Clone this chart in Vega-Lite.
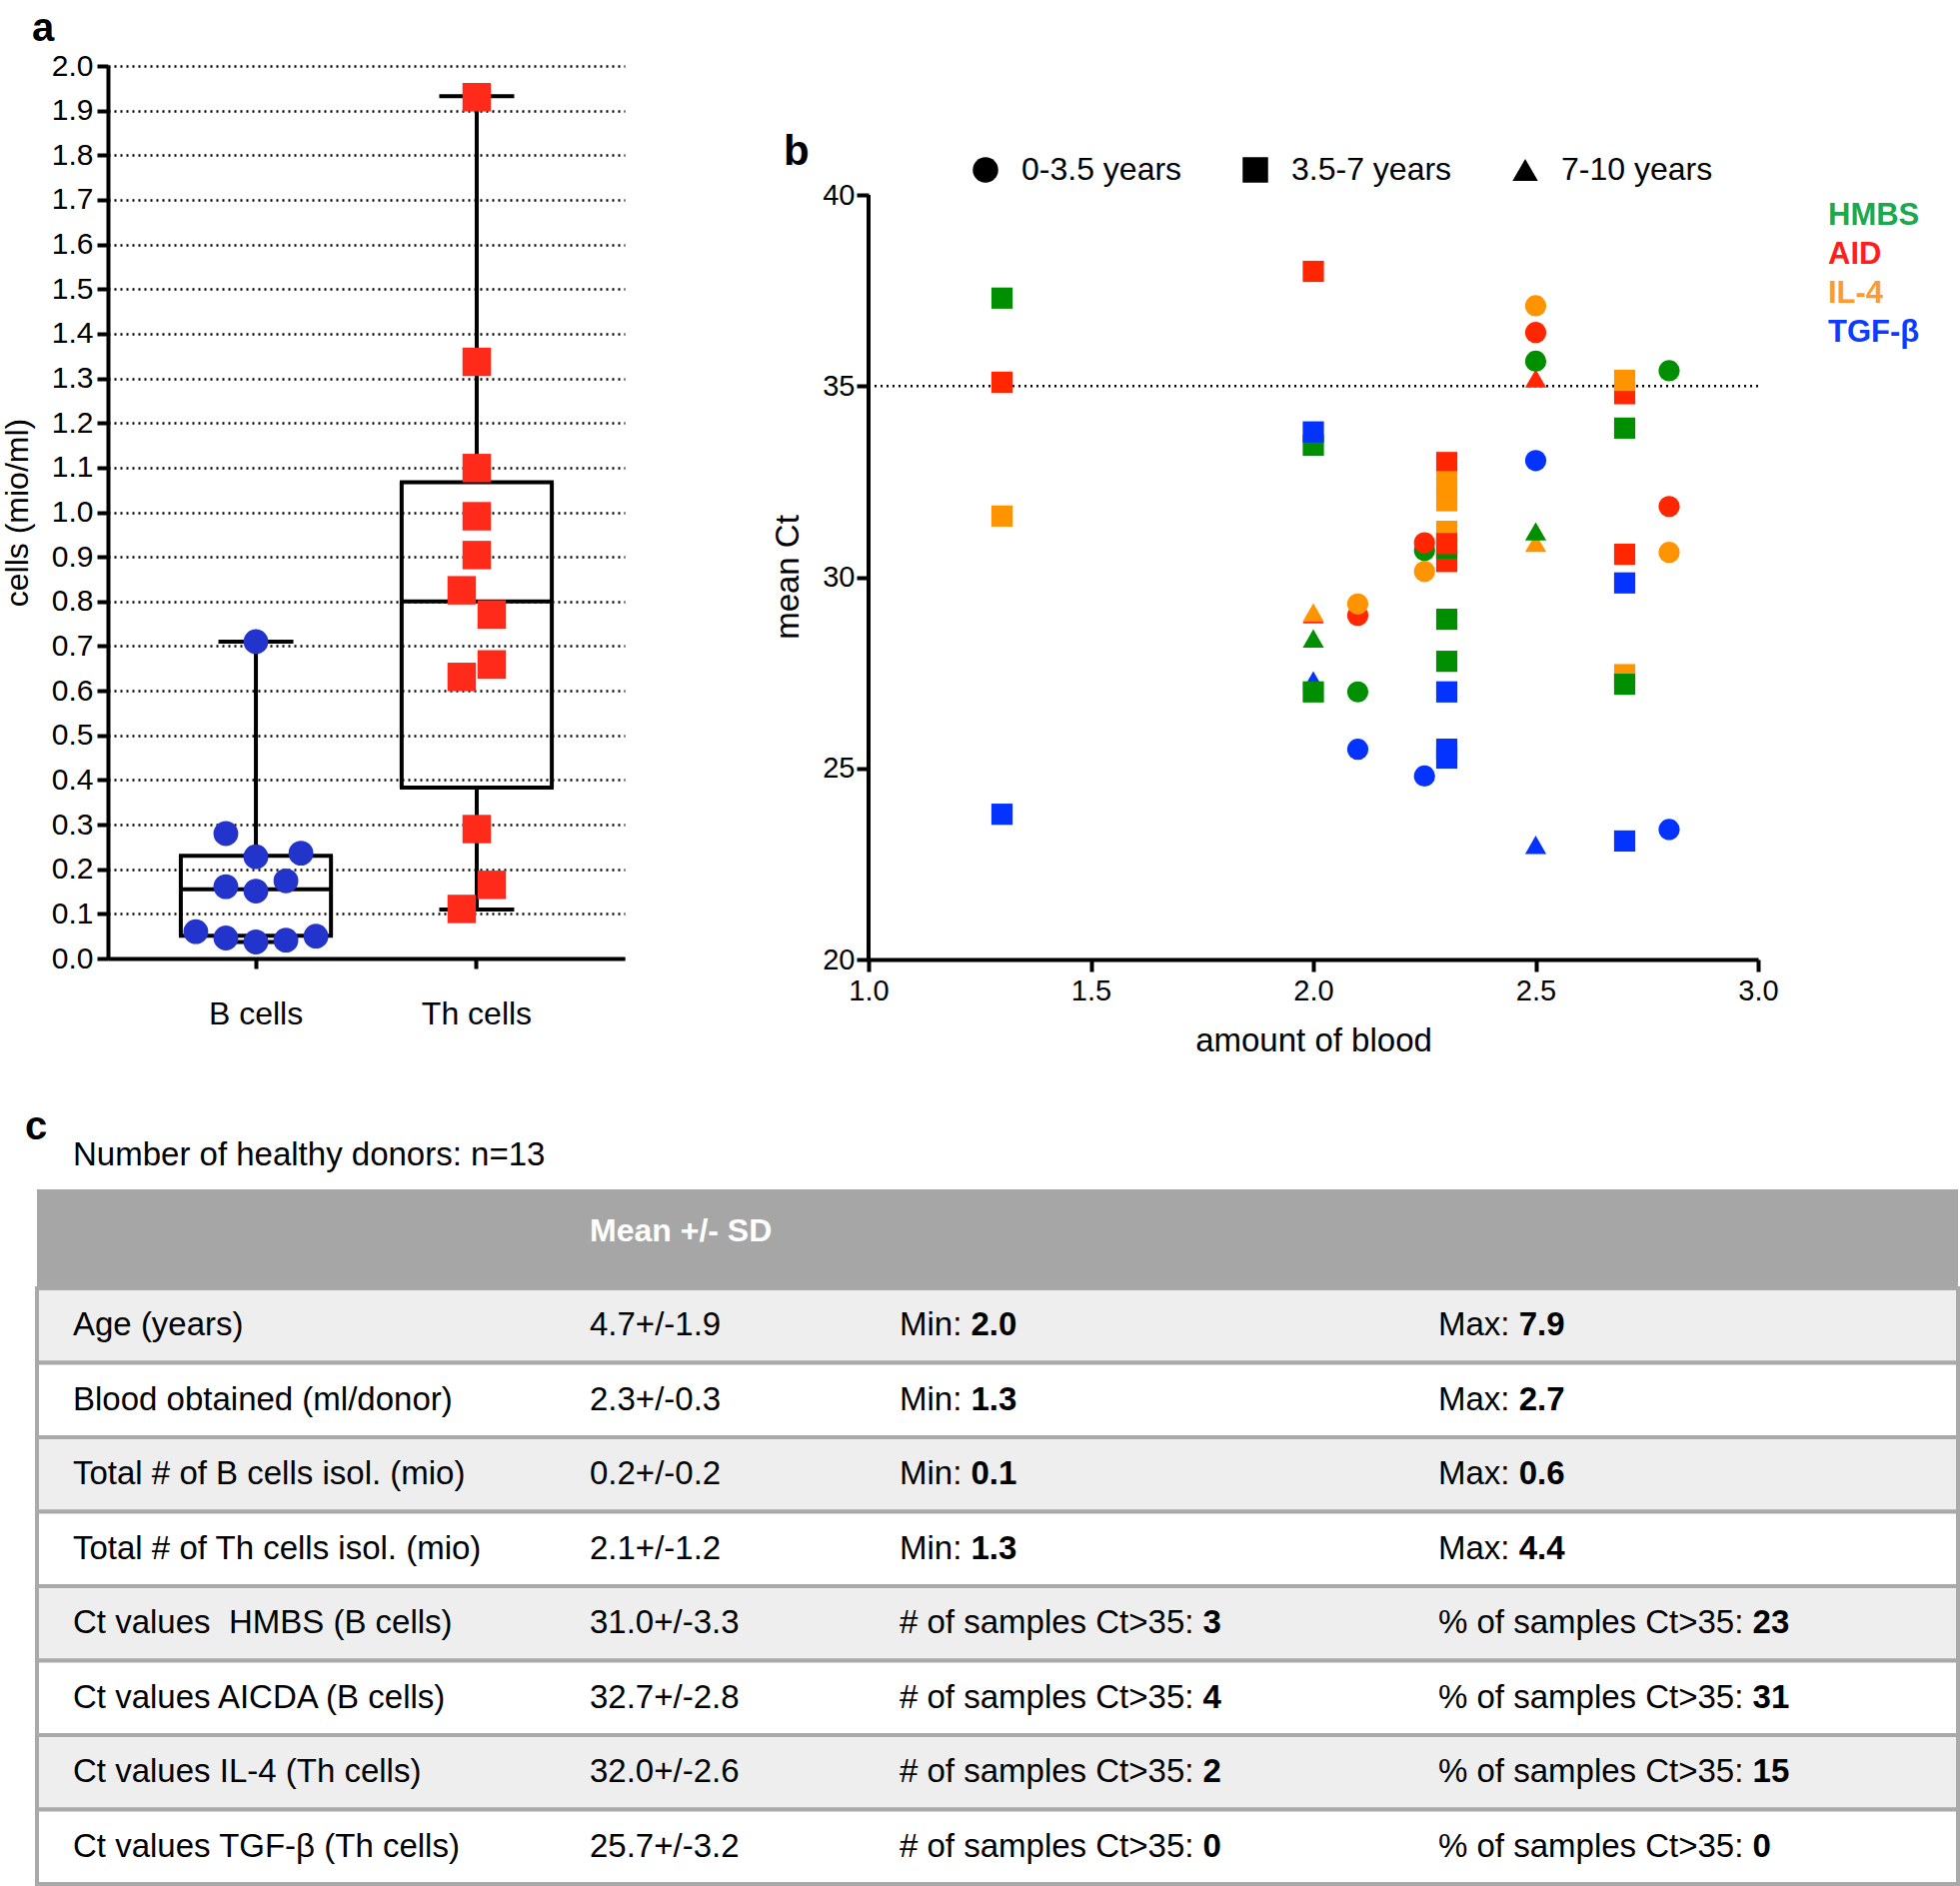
{
  "$schema": "https://vega.github.io/schema/vega-lite/v6.json",
  "background": "white",
  "padding": {"left": 1, "top": 9, "right": 0, "bottom": 0},
  "autosize": {"type": "pad"},
  "config": {
    "font": "Liberation Sans",
    "view": {"stroke": null},
    "axis": {"domainColor": "black", "tickColor": "black", "labelColor": "black", "titleColor": "black", "titleFontWeight": "normal", "labelFlush": false, "labelOverlap": false},
    "title": {"color": "black"}
  },
  "datasets": {
    "summaryA": [
      {"cell": "B cells", "lower": 0.037, "q1": 0.051, "median": 0.155, "q3": 0.23, "upper": 0.71},
      {"cell": "Th cells", "lower": 0.11, "q1": 0.383, "median": 0.8, "q3": 1.067, "upper": 1.932}
    ],
    "pointsA": [
      {"cell": "B cells", "v": 0.71, "slot": 0},
      {"cell": "B cells", "v": 0.28, "slot": -1},
      {"cell": "B cells", "v": 0.228, "slot": 0},
      {"cell": "B cells", "v": 0.236, "slot": 1.5},
      {"cell": "B cells", "v": 0.161, "slot": -1},
      {"cell": "B cells", "v": 0.151, "slot": 0},
      {"cell": "B cells", "v": 0.174, "slot": 1},
      {"cell": "B cells", "v": 0.06, "slot": -2},
      {"cell": "B cells", "v": 0.046, "slot": -1},
      {"cell": "B cells", "v": 0.037, "slot": 0},
      {"cell": "B cells", "v": 0.041, "slot": 1},
      {"cell": "B cells", "v": 0.05, "slot": 2},
      {"cell": "Th cells", "v": 1.93, "slot": 0},
      {"cell": "Th cells", "v": 1.337, "slot": 0},
      {"cell": "Th cells", "v": 1.099, "slot": 0},
      {"cell": "Th cells", "v": 0.991, "slot": 0},
      {"cell": "Th cells", "v": 0.904, "slot": 0},
      {"cell": "Th cells", "v": 0.825, "slot": -0.5},
      {"cell": "Th cells", "v": 0.771, "slot": 0.5},
      {"cell": "Th cells", "v": 0.659, "slot": 0.5},
      {"cell": "Th cells", "v": 0.631, "slot": -0.5},
      {"cell": "Th cells", "v": 0.29, "slot": 0},
      {"cell": "Th cells", "v": 0.165, "slot": 0.5},
      {"cell": "Th cells", "v": 0.111, "slot": -0.5}
    ],
    "refLinesB": [
      {"blood": 1, "blood_end": 1, "ct": 20, "ct_end": 40, "kind": "axis"},
      {"blood": 1, "blood_end": 3, "ct": 35, "ct_end": 35, "kind": "threshold"}
    ],
    "pointsB": [
      {"gene": "TGF-β", "age": "7-10 years", "blood": 2.0, "ct": 27.3},
      {"gene": "AID", "age": "3.5-7 years", "blood": 1.3, "ct": 35.1},
      {"gene": "AID", "age": "3.5-7 years", "blood": 2.0, "ct": 38.0},
      {"gene": "AID", "age": "7-10 years", "blood": 2.0, "ct": 29.03},
      {"gene": "AID", "age": "0-3.5 years", "blood": 2.1, "ct": 29.0},
      {"gene": "AID", "age": "3.5-7 years", "blood": 2.3, "ct": 33.0},
      {"gene": "AID", "age": "3.5-7 years", "blood": 2.3, "ct": 30.41},
      {"gene": "AID", "age": "0-3.5 years", "blood": 2.5, "ct": 36.4},
      {"gene": "AID", "age": "7-10 years", "blood": 2.5, "ct": 35.2},
      {"gene": "AID", "age": "3.5-7 years", "blood": 2.7, "ct": 34.8},
      {"gene": "AID", "age": "3.5-7 years", "blood": 2.7, "ct": 30.6},
      {"gene": "AID", "age": "0-3.5 years", "blood": 2.8, "ct": 31.85},
      {"gene": "IL-4", "age": "3.5-7 years", "blood": 1.3, "ct": 31.6},
      {"gene": "IL-4", "age": "7-10 years", "blood": 2.0, "ct": 29.08},
      {"gene": "IL-4", "age": "0-3.5 years", "blood": 2.1, "ct": 29.3},
      {"gene": "IL-4", "age": "0-3.5 years", "blood": 2.25, "ct": 30.15},
      {"gene": "IL-4", "age": "3.5-7 years", "blood": 2.3, "ct": 32.5},
      {"gene": "IL-4", "age": "3.5-7 years", "blood": 2.3, "ct": 32.0},
      {"gene": "IL-4", "age": "3.5-7 years", "blood": 2.3, "ct": 31.2},
      {"gene": "IL-4", "age": "0-3.5 years", "blood": 2.5, "ct": 37.1},
      {"gene": "IL-4", "age": "7-10 years", "blood": 2.5, "ct": 30.9},
      {"gene": "IL-4", "age": "3.5-7 years", "blood": 2.7, "ct": 35.15},
      {"gene": "IL-4", "age": "3.5-7 years", "blood": 2.7, "ct": 27.45},
      {"gene": "IL-4", "age": "0-3.5 years", "blood": 2.8, "ct": 30.65},
      {"gene": "HMBS", "age": "3.5-7 years", "blood": 1.3, "ct": 37.3},
      {"gene": "HMBS", "age": "3.5-7 years", "blood": 2.0, "ct": 33.45},
      {"gene": "HMBS", "age": "3.5-7 years", "blood": 2.0, "ct": 27.0},
      {"gene": "HMBS", "age": "7-10 years", "blood": 2.0, "ct": 28.4},
      {"gene": "HMBS", "age": "0-3.5 years", "blood": 2.1, "ct": 27.0},
      {"gene": "HMBS", "age": "0-3.5 years", "blood": 2.25, "ct": 30.7},
      {"gene": "HMBS", "age": "3.5-7 years", "blood": 2.3, "ct": 30.76},
      {"gene": "HMBS", "age": "3.5-7 years", "blood": 2.3, "ct": 28.9},
      {"gene": "HMBS", "age": "3.5-7 years", "blood": 2.3, "ct": 27.8},
      {"gene": "HMBS", "age": "0-3.5 years", "blood": 2.5, "ct": 35.65},
      {"gene": "HMBS", "age": "7-10 years", "blood": 2.5, "ct": 31.2},
      {"gene": "HMBS", "age": "3.5-7 years", "blood": 2.7, "ct": 33.9},
      {"gene": "HMBS", "age": "3.5-7 years", "blood": 2.7, "ct": 27.2},
      {"gene": "HMBS", "age": "0-3.5 years", "blood": 2.8, "ct": 35.4},
      {"gene": "TGF-β", "age": "3.5-7 years", "blood": 1.3, "ct": 23.8},
      {"gene": "TGF-β", "age": "3.5-7 years", "blood": 2.0, "ct": 33.8},
      {"gene": "TGF-β", "age": "0-3.5 years", "blood": 2.1, "ct": 25.5},
      {"gene": "TGF-β", "age": "0-3.5 years", "blood": 2.25, "ct": 24.8},
      {"gene": "TGF-β", "age": "3.5-7 years", "blood": 2.3, "ct": 27.0},
      {"gene": "TGF-β", "age": "3.5-7 years", "blood": 2.3, "ct": 25.5},
      {"gene": "TGF-β", "age": "3.5-7 years", "blood": 2.3, "ct": 25.27},
      {"gene": "TGF-β", "age": "0-3.5 years", "blood": 2.5, "ct": 33.05},
      {"gene": "TGF-β", "age": "7-10 years", "blood": 2.5, "ct": 23.0},
      {"gene": "TGF-β", "age": "3.5-7 years", "blood": 2.7, "ct": 29.85},
      {"gene": "TGF-β", "age": "3.5-7 years", "blood": 2.7, "ct": 23.1},
      {"gene": "TGF-β", "age": "0-3.5 years", "blood": 2.8, "ct": 23.4},
      {"gene": "AID", "age": "0-3.5 years", "blood": 2.25, "ct": 30.9},
      {"gene": "AID", "age": "3.5-7 years", "blood": 2.3, "ct": 30.88}
    ],
    "header": [
      {"col": 2, "text": "Mean +/- SD"}
    ],
    "rows": [
      {"label": "Age (years)", "mean": "4.7+/-1.9", "s1p": "Min: ", "s1v": "2.0", "s2p": "Max: ", "s2v": "7.9"},
      {"label": "Blood obtained (ml/donor)", "mean": "2.3+/-0.3", "s1p": "Min: ", "s1v": "1.3", "s2p": "Max: ", "s2v": "2.7"},
      {"label": "Total # of B cells isol. (mio)", "mean": "0.2+/-0.2", "s1p": "Min: ", "s1v": "0.1", "s2p": "Max: ", "s2v": "0.6"},
      {"label": "Total # of Th cells isol. (mio)", "mean": "2.1+/-1.2", "s1p": "Min: ", "s1v": "1.3", "s2p": "Max: ", "s2v": "4.4"},
      {"label": "Ct values\u00a0 HMBS (B cells)", "mean": "31.0+/-3.3", "s1p": "# of samples Ct>35: ", "s1v": "3", "s2p": "% of samples Ct>35: ", "s2v": "23"},
      {"label": "Ct values AICDA (B cells)", "mean": "32.7+/-2.8", "s1p": "# of samples Ct>35: ", "s1v": "4", "s2p": "% of samples Ct>35: ", "s2v": "31"},
      {"label": "Ct values IL-4 (Th cells)", "mean": "32.0+/-2.6", "s1p": "# of samples Ct>35: ", "s1v": "2", "s2p": "% of samples Ct>35: ", "s2v": "15"},
      {"label": "Ct values TGF-β (Th cells)", "mean": "25.7+/-3.2", "s1p": "# of samples Ct>35: ", "s1v": "0", "s2p": "% of samples Ct>35: ", "s2v": "0"}
    ]
  },
  "bounds": "flush",
  "spacing": 1124,
  "vconcat": [
    {
      "bounds": "flush",
      "spacing": 70,
      "hconcat": [
        {"width": 1, "height": 894, "data": {"values": [{"s": 0}]}, "mark": {"type": "point", "opacity": 0}, "encoding": {}},
        {
          "bounds": "flush",
          "spacing": 244,
          "hconcat": [
            {
              "width": 517,
              "height": 893,
              "title": {"text": "a", "anchor": "start", "frame": "group", "fontSize": 40, "fontWeight": "bold", "baseline": "alphabetic", "offset": 0, "dx": -76, "dy": 30},
              "encoding": {
                "x": {"field": "cell", "type": "nominal", "sort": ["B cells", "Th cells"], "scale": {"domain": ["B cells", "Th cells"], "paddingInner": 0.32, "paddingOuter": 0.33}, "axis": {"title": null, "labelAngle": 0, "labelFontSize": 32, "labelPadding": 30, "tickSize": 10, "tickWidth": 4, "domainWidth": 4, "grid": false}}
              },
              "layer": [
                {
                  "data": {"name": "summaryA"},
                  "mark": {"type": "rule", "color": "black", "strokeWidth": 4},
                  "encoding": {
                    "y": {"field": "lower", "type": "quantitative", "scale": {"domain": [0, 2], "nice": false}, "axis": {"values": [0, 0.1, 0.2, 0.3, 0.4, 0.5, 0.6, 0.7, 0.8, 0.9, 1.0, 1.1, 1.2, 1.3, 1.4, 1.5, 1.6, 1.7, 1.8, 1.9, 2.0], "format": ".1f", "labelFontSize": 30, "labelPadding": 4, "tickSize": 11, "tickWidth": 4, "domainWidth": 4, "grid": true, "gridDash": [2, 4], "gridWidth": 2.5, "gridColor": "black", "title": "cells (mio/ml)", "titleFontSize": 32, "titleX": -91, "titleBaseline": "middle", "titleAngle": -90}},
                    "y2": {"field": "q1"}
                  }
                },
                {
                  "data": {"name": "summaryA"},
                  "mark": {"type": "rule", "color": "black", "strokeWidth": 4},
                  "encoding": {"y": {"field": "q3", "type": "quantitative"}, "y2": {"field": "upper"}}
                },
                {
                  "data": {"name": "summaryA"},
                  "mark": {"type": "rule", "color": "black", "strokeWidth": 4},
                  "encoding": {"y": {"field": "q1", "type": "quantitative"}, "y2": {"field": "q3"}, "xOffset": {"datum": -2.5, "type": "quantitative", "scale": {"domain": [-2.5, 2.5]}}}
                },
                {
                  "data": {"name": "summaryA"},
                  "mark": {"type": "rule", "color": "black", "strokeWidth": 4},
                  "encoding": {"y": {"field": "q1", "type": "quantitative"}, "y2": {"field": "q3"}, "xOffset": {"datum": 2.5, "type": "quantitative"}}
                },
                {
                  "data": {"name": "summaryA"},
                  "mark": {"type": "tick", "color": "black", "size": 154, "thickness": 4, "opacity": 1},
                  "encoding": {"y": {"field": "q1", "type": "quantitative"}}
                },
                {
                  "data": {"name": "summaryA"},
                  "mark": {"type": "tick", "color": "black", "size": 154, "thickness": 4, "opacity": 1},
                  "encoding": {"y": {"field": "q3", "type": "quantitative"}}
                },
                {
                  "data": {"name": "summaryA"},
                  "mark": {"type": "tick", "color": "black", "size": 150, "thickness": 4, "opacity": 1},
                  "encoding": {"y": {"field": "median", "type": "quantitative"}}
                },
                {
                  "data": {"name": "summaryA"},
                  "mark": {"type": "tick", "color": "black", "size": 75, "thickness": 4, "opacity": 1},
                  "encoding": {"y": {"field": "upper", "type": "quantitative"}}
                },
                {
                  "data": {"name": "summaryA"},
                  "mark": {"type": "tick", "color": "black", "size": 75, "thickness": 4, "opacity": 1},
                  "encoding": {"y": {"field": "lower", "type": "quantitative"}}
                },
                {
                  "data": {"name": "pointsA"},
                  "transform": [{"filter": "datum.cell == 'B cells'"}],
                  "mark": {"type": "point", "shape": "circle", "filled": true, "opacity": 1, "size": 616, "color": "#2234cc", "strokeWidth": 0},
                  "encoding": {"y": {"field": "v", "type": "quantitative"}, "xOffset": {"field": "slot", "type": "quantitative"}}
                },
                {
                  "data": {"name": "pointsA"},
                  "transform": [{"filter": "datum.cell == 'Th cells'"}],
                  "mark": {"type": "point", "shape": "square", "filled": true, "opacity": 1, "size": 810, "color": "#ff2a1a", "strokeWidth": 0},
                  "encoding": {"y": {"field": "v", "type": "quantitative"}, "xOffset": {"field": "slot", "type": "quantitative"}}
                }
              ]
            },
            {
              "width": 890,
              "height": 894,
              "title": {"text": "b", "anchor": "start", "frame": "group", "fontSize": 42, "fontWeight": "bold", "baseline": "alphabetic", "offset": 0, "dx": -85, "dy": 141},
              "encoding": {
                "x": {"field": "blood", "type": "quantitative", "scale": {"domain": [1, 3], "nice": false, "zero": false}, "axis": {"values": [1, 1.5, 2, 2.5, 3], "format": ".1f", "labelFontSize": 29, "labelPadding": 5, "tickSize": 12, "tickWidth": 4, "domainWidth": 4, "grid": false, "title": "amount of blood", "titleFontSize": 33, "titleY": 81, "titleBaseline": "middle"}},
                "y": {"field": "ct", "type": "quantitative", "scale": {"domain": [20, 43.373], "nice": false, "zero": false}, "axis": {"values": [20, 25, 30, 35, 40], "domain": false, "labelFontSize": 29, "labelPadding": 2, "tickSize": 12, "tickWidth": 4, "grid": false, "title": "mean Ct", "titleFontSize": 33, "titleX": -81, "titleY": 511, "titleBaseline": "middle", "titleAngle": -90}}
              },
              "layer": [
                {
                  "data": {"name": "refLinesB"},
                  "transform": [{"filter": "datum.kind == 'axis'"}],
                  "mark": {"type": "rule", "color": "black", "strokeWidth": 4},
                  "encoding": {"y2": {"field": "ct_end"}}
                },
                {
                  "data": {"name": "refLinesB"},
                  "transform": [{"filter": "datum.kind == 'threshold'"}],
                  "mark": {"type": "rule", "color": "black", "strokeWidth": 2.5, "strokeDash": [2, 4]},
                  "encoding": {"x2": {"field": "blood_end"}}
                },
                {
                  "data": {"name": "pointsB"},
                  "mark": {"type": "point", "filled": true, "opacity": 1, "strokeWidth": 0, "size": 450},
                  "encoding": {
                    "shape": {"field": "age", "type": "nominal", "scale": {"domain": ["0-3.5 years", "3.5-7 years", "7-10 years"], "range": ["circle", "square", "triangle-up"]},
                      "legend": {"title": null, "orient": "none", "legendX": 933, "legendY": 88, "direction": "horizontal", "labelFontSize": 32, "labelColor": "black", "labelLimit": 400, "symbolSize": 650, "symbolFillColor": "black", "symbolStrokeColor": "black", "symbolStrokeWidth": 0, "labelOffset": 20, "columnPadding": 57, "padding": 0,
                        "encode": {"symbols": {"update": {"fill": {"value": "black"}, "stroke": {"value": "black"}, "opacity": {"value": 1}}}}}},
                    "color": {"field": "gene", "type": "nominal", "scale": {"domain": ["HMBS", "AID", "IL-4", "TGF-β"], "range": ["#008f00", "#ff2600", "#ff9300", "#0433ff"]},
                      "legend": {"title": null, "orient": "none", "legendX": 1761, "legendY": 134, "direction": "vertical", "labelFontSize": 31, "labelFontWeight": "bold", "labelLimit": 400, "symbolSize": 0, "symbolOpacity": 0, "symbolStrokeWidth": 0, "labelOffset": 0, "rowPadding": 7, "padding": 0,
                        "encode": {"labels": {"update": {"fill": {"signal": "datum.value === 'HMBS' ? '#1ba84f' : datum.value === 'AID' ? '#ff1e1e' : datum.value === 'IL-4' ? '#ff9933' : '#0b3cff'"}}}}}}
                  }
                }
              ]
            }
          ]
        }
      ]
    },
    {
      "bounds": "flush",
      "spacing": 0,
      "title": {"text": "c", "anchor": "start", "frame": "group", "fontSize": 40, "fontWeight": "bold", "baseline": "alphabetic", "offset": 0, "dx": -12, "dy": 40},
      "vconcat": [
        {
          "width": 1922,
          "height": 99,
          "view": {"fill": "#a6a6a6", "stroke": null},
          "title": {"text": "Number of healthy donors: n=13", "anchor": "start", "frame": "group", "fontSize": 33, "fontWeight": "normal", "baseline": "alphabetic", "offset": -9, "dx": 36},
          "data": {"name": "header"},
          "mark": {"type": "text", "align": "left", "baseline": "middle", "fontSize": 32, "fontWeight": "bold", "color": "white", "dy": -8},
          "encoding": {
            "x": {"field": "col", "type": "quantitative", "scale": {"domain": [1, 2, 3, 4], "range": [36, 553, 863, 1402]}, "axis": null},
            "text": {"field": "text"}
          }
        },
        {
          "width": 1922,
          "height": 596,
          "data": {"name": "rows"},
          "encoding": {
            "y": {"field": "label", "type": "nominal", "sort": null, "scale": {"paddingInner": 0, "paddingOuter": 0}, "axis": null}
          },
          "layer": [
            {
              "mark": {"type": "rect", "stroke": "#a9a9a9", "strokeWidth": 4},
              "encoding": {"fill": {"field": "label", "type": "nominal", "sort": null, "scale": {"range": ["#eeeeee", "#ffffff", "#eeeeee", "#ffffff", "#eeeeee", "#ffffff", "#eeeeee", "#ffffff"]}, "legend": null}}
            },
            {
              "mark": {"type": "text", "align": "left", "baseline": "middle", "fontSize": 33, "color": "black"},
              "encoding": {"x": {"datum": 1, "type": "quantitative", "scale": {"domain": [1, 2, 3, 4], "range": [36, 553, 863, 1402]}, "axis": null}, "text": {"field": "label"}}
            },
            {
              "mark": {"type": "text", "align": "left", "baseline": "middle", "fontSize": 33, "color": "black"},
              "encoding": {"x": {"datum": 2, "type": "quantitative"}, "text": {"field": "mean"}}
            },
            {
              "mark": {"type": "text", "align": "left", "baseline": "middle", "fontSize": 33, "color": "black"},
              "encoding": {"x": {"datum": 3, "type": "quantitative"}, "text": {"field": "s1p"}}
            },
            {
              "transform": [{"filter": "datum.s1p == 'Min: '"}],
              "mark": {"type": "text", "align": "left", "baseline": "middle", "fontSize": 33, "fontWeight": "bold", "color": "black", "dx": 71.5},
              "encoding": {"x": {"datum": 3, "type": "quantitative"}, "text": {"field": "s1v"}}
            },
            {
              "transform": [{"filter": "datum.s1p != 'Min: '"}],
              "mark": {"type": "text", "align": "left", "baseline": "middle", "fontSize": 33, "fontWeight": "bold", "color": "black", "dx": 303.6},
              "encoding": {"x": {"datum": 3, "type": "quantitative"}, "text": {"field": "s1v"}}
            },
            {
              "mark": {"type": "text", "align": "left", "baseline": "middle", "fontSize": 33, "color": "black"},
              "encoding": {"x": {"datum": 4, "type": "quantitative"}, "text": {"field": "s2p"}}
            },
            {
              "transform": [{"filter": "datum.s2p == 'Max: '"}],
              "mark": {"type": "text", "align": "left", "baseline": "middle", "fontSize": 33, "fontWeight": "bold", "color": "black", "dx": 80.7},
              "encoding": {"x": {"datum": 4, "type": "quantitative"}, "text": {"field": "s2v"}}
            },
            {
              "transform": [{"filter": "datum.s2p != 'Max: '"}],
              "mark": {"type": "text", "align": "left", "baseline": "middle", "fontSize": 33, "fontWeight": "bold", "color": "black", "dx": 314.6},
              "encoding": {"x": {"datum": 4, "type": "quantitative"}, "text": {"field": "s2v"}}
            }
          ]
        }
      ]
    }
  ]
}
